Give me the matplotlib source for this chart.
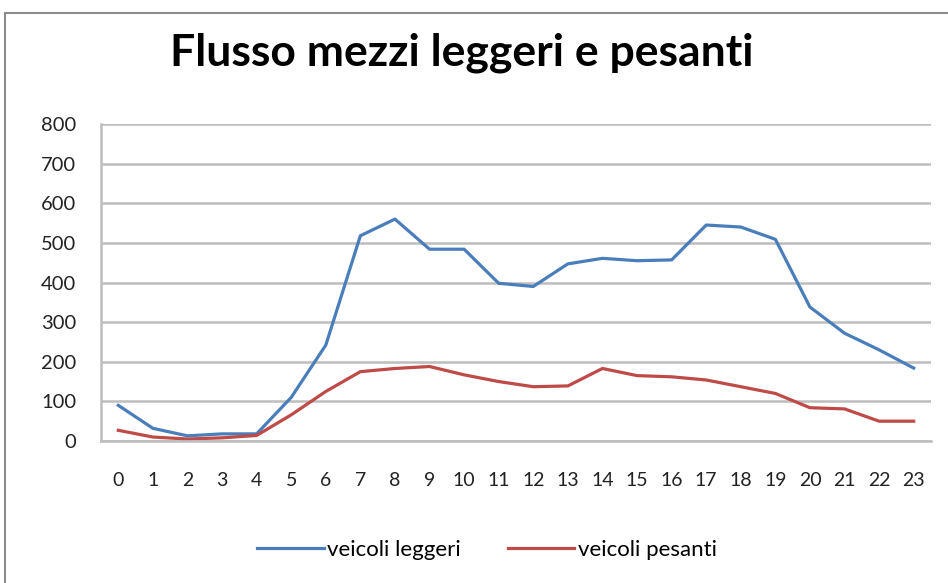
import matplotlib
matplotlib.use('Agg')
import matplotlib.pyplot as plt
from matplotlib.patches import Rectangle

# data
hours = list(range(24))
leggeri = [90, 32, 13, 18, 18, 110, 242, 518, 560, 484, 484, 398,
           390, 447, 461, 455, 457, 545, 540, 509, 338, 272, 230, 184]
pesanti = [27, 10, 5, 8, 14, 66, 125, 175, 183, 188, 167, 150,
           137, 139, 183, 165, 162, 154, 137, 120, 84, 81, 50, 50]
y_ticks = [0, 100, 200, 300, 400, 500, 600, 700, 800]

plt.rcParams['font.family'] = ['Lato', 'DejaVu Sans']

fig = plt.figure(figsize=(9.48, 5.83), dpi=100)
fig.patch.set_facecolor('white')

# outer chart frame (only top and left edges visible)
fig.patches.append(Rectangle((5 / 948, -0.05), 1.1, 1 - 13 / 583 + 0.05,
                             transform=fig.transFigure, fill=False,
                             edgecolor='#8c8c8c', linewidth=1.5))

ax = fig.add_axes([101 / 948, 1 - 441 / 583, 830 / 948, 317 / 583])

ax.plot(hours, leggeri, color='#4a7ebb', linewidth=2.3, label='veicoli leggeri')
ax.plot(hours, pesanti, color='#be4b48', linewidth=2.3, label='veicoli pesanti')

ax.set_xlim(-0.5, 23.5)
ax.set_ylim(0, 800)
ax.set_yticks(y_ticks)
ax.set_xticks(hours)
ax.grid(axis='y', color='#bdbdbd', linewidth=1.8)
ax.set_axisbelow(True)

for side in ['top', 'right']:
    ax.spines[side].set_visible(False)
ax.spines['left'].set_color('#bdbdbd')
ax.spines['left'].set_linewidth(1.8)
ax.spines['bottom'].set_color('#bdbdbd')
ax.spines['bottom'].set_linewidth(1.8)

ax.tick_params(axis='y', length=0, pad=18, labelsize=14.5, colors='#222222')
ax.tick_params(axis='x', length=0, pad=22, labelsize=14, colors='#222222')

fig.text(462 / 948, 1 - 53 / 583, 'Flusso mezzi leggeri e pesanti',
         ha='center', va='center', fontsize=32, fontweight='bold')

ax.legend(loc='center', bbox_to_anchor=(487 / 948, 1 - 550 / 583),
          bbox_transform=fig.transFigure, ncol=2, frameon=False,
          fontsize=16, handlelength=3.0, columnspacing=2.1, handletextpad=0.15)

plt.savefig('out.png', dpi=100)
plt.close()
